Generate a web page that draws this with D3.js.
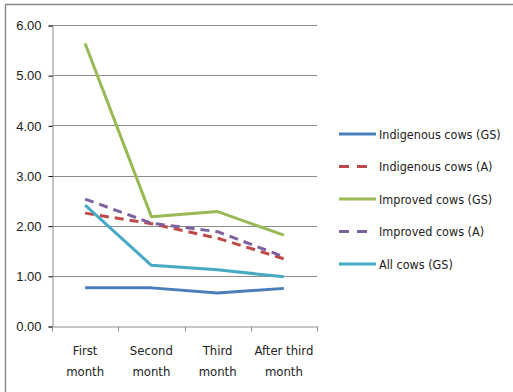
<!DOCTYPE html>
<html>
<head>
<meta charset="utf-8">
<script src="https://cdn.jsdelivr.net/npm/d3@7"></script>
<style>
  body { margin: 0; background: #fff; }
  svg { display: block; font-family: "Liberation Sans Narrow", "DejaVu Sans Condensed", "Liberation Sans", sans-serif; }
</style>
</head>
<body>
<svg id="chart" width="513" height="392"></svg>
<script>
const categories = [['First', 'month'], ['Second', 'month'], ['Third', 'month'], ['After third', 'month']];
const yTicks = [0, 1, 2, 3, 4, 5, 6];

const seriesNames = ['Indigenous cows (GS)', 'Indigenous cows (A)', 'Improved cows (GS)', 'Improved cows (A)', 'All cows (GS)'];
const seriesColors = ['#4A7EBB', '#BE4B48', '#98B954', '#7D60A0', '#46AAC5'];
const seriesDashed = [false, true, false, true, false];
const indigenousGS = [0.76, 0.76, 0.66, 0.75];
const indigenousA = [2.25, 2.04, 1.75, 1.34];
const improvedGS = [5.63, 2.18, 2.28, 1.81];
const improvedA = [2.53, 2.05, 1.88, 1.38];
const allGS = [2.41, 1.21, 1.12, 0.98];
const seriesValues = [indigenousGS, indigenousA, improvedGS, improvedA, allGS];

const svg = d3.select('#chart');
const plot = { left: 52, right: 317, top: 25, bottom: 326 };

// outer frame, cut off at right and bottom like the source
svg.append('rect')
  .attr('x', 5.5).attr('y', 4.5)
  .attr('width', 520).attr('height', 400)
  .attr('fill', 'none')
  .attr('stroke', '#8a8a8a')
  .attr('stroke-width', 1.5);

const x = d3.scaleBand()
  .domain(d3.range(categories.length))
  .range([plot.left, plot.right]);

const y = d3.scaleLinear()
  .domain([0, 6])
  .range([plot.bottom, plot.top]);

// gridlines
svg.append('g')
  .selectAll('line')
  .data(yTicks.filter(d => d > 0))
  .join('line')
  .attr('x1', plot.left).attr('x2', plot.right)
  .attr('y1', d => Math.round(y(d)) + 0.5)
  .attr('y2', d => Math.round(y(d)) + 0.5)
  .attr('stroke', '#8c8c8c')
  .attr('stroke-width', 1);

// y axis
const yAxis = svg.append('g')
  .attr('transform', `translate(${plot.left + 0.5},0.5)`)
  .call(d3.axisLeft(y).tickValues(yTicks).tickFormat(d3.format('.2f')).tickSize(4).tickPadding(7));
yAxis.selectAll('text')
  .attr('font-size', 13)
  .attr('fill', '#222')
  .attr('font-family', 'inherit');

// x axis
const xAxis = svg.append('g')
  .attr('transform', `translate(0,${plot.bottom + 0.5})`)
  .call(d3.axisBottom(x).tickSize(0).tickFormat(''));
xAxis.selectAll('.tick').remove();
xAxis.selectAll('g.bound')
  .data(d3.range(categories.length + 1))
  .join('line')
  .attr('x1', i => Math.round(plot.left + i * x.step()) + 0.5)
  .attr('x2', i => Math.round(plot.left + i * x.step()) + 0.5)
  .attr('y1', 0).attr('y2', 5)
  .attr('stroke', '#8c8c8c');
svg.selectAll('.domain').attr('stroke', '#8c8c8c');

svg.append('g')
  .selectAll('text')
  .data(categories)
  .join('text')
  .attr('x', (d, i) => x(i) + x.bandwidth() / 2)
  .attr('y', 355)
  .attr('text-anchor', 'middle')
  .attr('font-size', 13)
  .attr('fill', '#222')
  .selectAll('tspan')
  .data(d => d)
  .join('tspan')
  .attr('x', function () { return this.parentNode.getAttribute('x'); })
  .attr('dy', (d, i) => i === 0 ? 0 : 21)
  .text(d => d);

// series lines
const line = d3.line()
  .x((d, i) => x(i) + x.bandwidth() / 2)
  .y(d => y(d));

seriesValues.forEach((vals, k) => {
  svg.append('path')
    .datum(vals)
    .attr('fill', 'none')
    .attr('stroke', seriesColors[k])
    .attr('stroke-width', 3)
    .attr('stroke-linejoin', 'round')
    .attr('stroke-dasharray', seriesDashed[k] ? '9,6' : null)
    .attr('d', line);
});

// legend
const legend = svg.append('g');
seriesNames.forEach((name, k) => {
  const ly = 134 + k * 32.5;
  legend.append('line')
    .attr('x1', 339).attr('x2', seriesDashed[k] ? 367 : 376)
    .attr('y1', ly).attr('y2', ly)
    .attr('stroke', seriesColors[k])
    .attr('stroke-width', 3)
    .attr('stroke-dasharray', seriesDashed[k] ? '10,8' : null);
  legend.append('text')
    .attr('x', 379)
    .attr('y', ly + 4.5)
    .attr('font-size', 12.5)
    .attr('fill', '#222')
    .text(name);
});
</script>
</body>
</html>
